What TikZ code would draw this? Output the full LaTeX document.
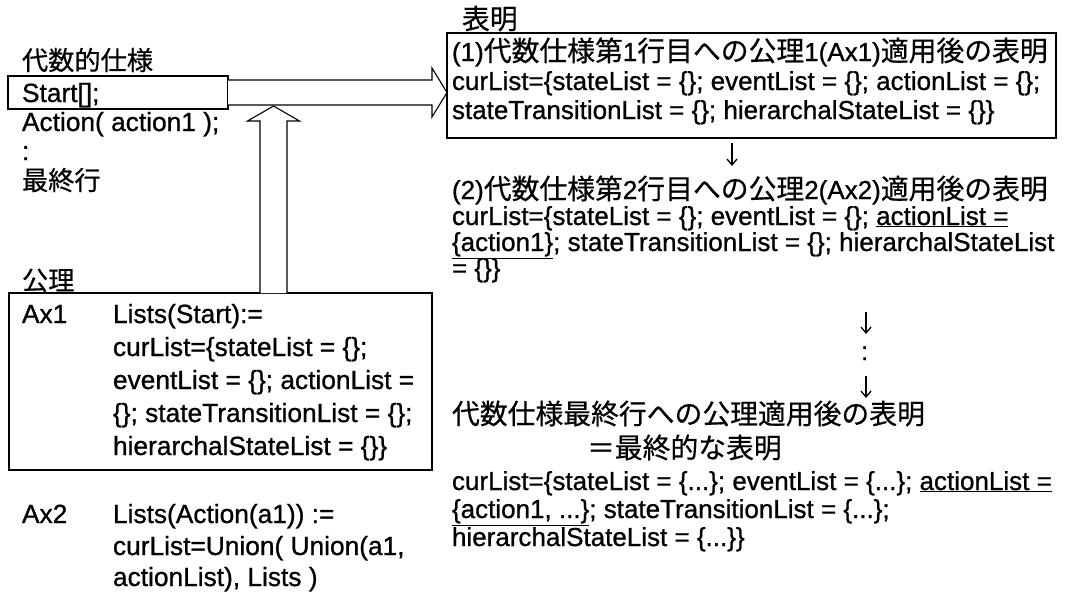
\documentclass[tikz,border=0pt]{standalone}
\usepackage{fontspec}
\setmainfont{Liberation Sans}[FakeBold=0.9]
\newfontfamily\jp{Noto Sans CJK JP}[Scale=1.07,FakeBold=0.5]
\usetikzlibrary{calc,arrows.meta}
\newcommand\J[1]{{\jp #1}}
\begin{document}
\begin{tikzpicture}[x=1pt,y=-1pt,
  txt/.style={anchor=base west, inner sep=0pt, outer sep=0pt, font=\fontsize{26.3}{29}\selectfont},
  hd/.style={anchor=base west, inner sep=0pt, outer sep=0pt, font=\fontsize{24.5}{29}\selectfont},
  rtxt/.style={anchor=base west, inner sep=0pt, outer sep=0pt, font=\fontsize{26}{29}\selectfont},
  frame/.style={draw, line width=1.1pt, inner sep=0pt, outer sep=0pt, anchor=north west},
  blockarrow/.style={draw, line width=1.1pt, fill=white, line join=miter},
  thinarrow/.style={line width=1.3pt, -{Straight Barb[length=6pt,width=10pt,line width=1.3pt]}}]
\fill[white] (0,0) rectangle (1072,595);
\useasboundingbox (0,0) rectangle (1072,595);

% ---------- left: algebraic specification ----------
\node[hd] (h1) at (22,70) {\J{代数的仕様}};
\node[frame, minimum width=220pt, minimum height=33pt] (startbox) at (8,76) {};
\node[txt] (l1) at (22,102) {Start[];};
\node[txt] (l2) at (22,131) {Action( action1 );};
\node[txt] (l3) at (22,160) {:};
\node[hd] (l4) at (22,190) {\J{最終行}};

% ---------- left: axioms ----------
\node[hd] (h2) at (22,290) {\J{公理}};
\node[frame, minimum width=423pt, minimum height=177pt] (axbox) at (9,293) {};
\node[txt] (ax1) at (22,323) {Ax1};
\node[txt] (a11) at (113,323) {Lists(Start):=};
\node[txt] (a12) at (113,356) {curList=\{stateList = \{\};};
\node[txt] (a13) at (113,389) {eventList = \{\}; actionList =};
\node[txt] (a14) at (113,422) {\{\}; stateTransitionList = \{\};};
\node[txt] (a15) at (113,455) {hierarchalStateList = \{\}\}};
\node[txt] (ax2) at (22,523) {Ax2};
\node[txt] (a21) at (113,523) {Lists(Action(a1)) :=};
\node[txt] (a22) at (113,555) {curList=Union( Union(a1,};
\node[txt] (a23) at (113,586) {actionList), Lists )};

% ---------- right: expressions ----------
\node[rtxt] (h3) at (462,29) {\J{表明}};
\node[frame, minimum width=609pt, minimum height=105pt] (box1) at (447,33) {};
\node[rtxt] (b11) at (452,61) {(1)\J{代数仕様第}1\J{行目への公理}1(Ax1)\J{適用後の表明}};
\node[rtxt] (b12) at (452,90) {curList=\{stateList = \{\}; eventList = \{\}; actionList = \{\};};
\node[rtxt] (b13) at (452,119) {stateTransitionList = \{\}; hierarchalStateList = \{\}\}};

\coordinate (d1a) at (732,143);
\coordinate (d1b) at (732,166);
\draw[thinarrow] (d1a) -- (d1b);

\node[rtxt] (b21) at (452,199) {(2)\J{代数仕様第}2\J{行目への公理}2(Ax2)\J{適用後の表明}};
\node[rtxt] (b22) at (452,225) {curList=\{stateList = \{\}; eventList = \{\}; \underline{actionList =}};
\node[rtxt] (b23) at (452,251) {\underline{\{action1\}}; stateTransitionList = \{\}; hierarchalStateList};
\node[rtxt] (b24) at (452,277) {= \{\}\}};

\coordinate (d2a) at (866,312);
\coordinate (d2b) at (866,334);
\draw[thinarrow] (d2a) -- (d2b);
\node[rtxt] (dots) at (861,360) {:};
\coordinate (d3a) at (866,376);
\coordinate (d3b) at (866,398);
\draw[thinarrow] (d3a) -- (d3b);

\node[rtxt] (b31) at (452,424) {\J{代数仕様最終行への公理適用後の表明}};
\node[rtxt] (b32) at (587,458) {\J{＝最終的な表明}};
\node[rtxt] (b33) at (452,490) {curList=\{stateList = \{...\}; eventList = \{...\}; \underline{actionList =}};
\node[rtxt] (b34) at (452,518) {\underline{\{action1, ...\}}; stateTransitionList = \{...\};};
\node[rtxt] (b35) at (452,546) {hierarchalStateList = \{...\}\}};

% ---------- block arrows ----------
\coordinate (htip) at ($(startbox.east -| box1.west)$);
\draw[blockarrow] ($(startbox.east)+(0,-12.5)$) -- ($(htip)+(-15,-12.5)$) -- ($(htip)+(-15,-24.5)$)
  -- (htip) -- ($(htip)+(-15,24.5)$) -- ($(htip)+(-15,12.5)$) -- ($(startbox.east)+(0,12.5)$);
\coordinate (vbase) at ($(axbox.north west)+(264.5,0)$);
\coordinate (vtip) at ($(vbase |- startbox.south)+(0,-3)$);
\draw[blockarrow] ($(vbase)+(-13.5,0)$) -- ($(vtip)+(-13.5,15)$) -- ($(vtip)+(-26,15)$)
  -- (vtip) -- ($(vtip)+(26,15)$) -- ($(vtip)+(13.5,15)$) -- ($(vbase)+(13.5,0)$);
\end{tikzpicture}
\end{document}
